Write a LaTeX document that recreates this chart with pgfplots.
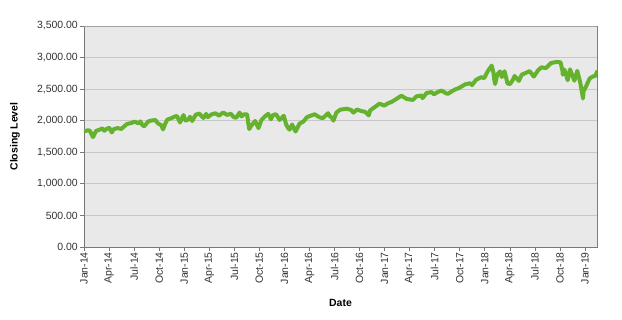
\documentclass[border=0pt]{standalone}
\usepackage{pgfplots}
\pgfplotsset{compat=1.18}
\usepackage{fontspec}
\setmainfont{Liberation Sans}
\definecolor{lineg}{RGB}{100,178,46}
\definecolor{bgg}{RGB}{233,233,233}
\definecolor{gridg}{RGB}{200,200,200}
\definecolor{axg}{RGB}{120,120,120}
\definecolor{txt}{RGB}{50,50,50}
\begin{document}
\begin{tikzpicture}
\useasboundingbox (-84bp,-73bp) rectangle (538bp,247bp);
\begin{axis}[
  scale only axis, width=513bp, height=221bp,
  at={(0,0)}, anchor=south west,
  xmin=0, xmax=61.43, ymin=0, ymax=3500,
  axis background/.style={fill=bgg},
  axis line style={draw=axg, line width=0.8bp},
  ytick={0,500,...,3500},
  yticklabel={\pgfmathprintnumber[fixed,fixed zerofill,precision=2,1000 sep={,}]{\tick}},
  /pgf/number format/assume math mode=true,
  xtick={0,3,...,60},
  xticklabels={Jan-14,Apr-14,Jul-14,Oct-14,Jan-15,Apr-15,Jul-15,Oct-15,Jan-16,Apr-16,Jul-16,Oct-16,Jan-17,Apr-17,Jul-17,Oct-17,Jan-18,Apr-18,Jul-18,Oct-18,Jan-19},
  x tick label style={rotate=90, anchor=east, font=\fontsize{10.5}{12}\selectfont, text=txt, inner sep=1bp},
  y tick label style={font=\fontsize{10.5}{12}\selectfont, text=txt, inner sep=2bp},
  tick align=outside, tick pos=left,
  major tick length=4bp,
  tick style={draw=axg, line width=0.8bp},
  ymajorgrids, grid style={draw=gridg, line width=0.8bp},
  xlabel={\textbf{Date}},
  ylabel={\textbf{Closing Level}},
  xlabel style={at={(axis description cs:0.5,-0.253)}, anchor=center, font=\fontsize{10.5}{12}\selectfont},
  ylabel style={at={(axis description cs:-0.1345,0.5)}, anchor=center, font=\fontsize{10.5}{12}\selectfont},
  clip=true,
]
\draw[draw=gridg!80!black, line width=0.6bp] (axis cs:0,3500) -- (axis cs:61.43,3500) -- (axis cs:61.43,0);
\addplot[color=lineg, line width=4bp, line join=round, line cap=round] coordinates {
(0.03,1832) (0.46,1848) (0.69,1844) (1.07,1741) (1.13,1751) (1.43,1838) (1.89,1859)
(2.20,1878) (2.43,1841) (2.66,1866) (3.03,1890) (3.33,1815) (3.53,1864) (4.0,1883)
(4.46,1870) (4.72,1900) (5.16,1949) (5.63,1962) (6.07,1985) (6.53,1958) (6.76,1988)
(6.99,1931) (7.20,1910) (7.69,1988) (8.03,2002) (8.56,2011) (8.79,1966) (9.0,1946)
(9.26,1928) (9.46,1862) (9.76,1964) (9.99,2018) (10.43,2039) (10.89,2067) (11.13,2075)
(11.49,1972) (11.92,2090) (11.99,2059)
(12.16,2002) (12.49,2019) (12.69,2063) (12.95,1995) (13.39,2096) (13.79,2113) (14.30,2044)
(14.63,2108) (14.82,2056) (15.30,2102) (15.76,2117) (16.16,2080) (16.66,2131) (17.13,2092)
(17.59,2110) (17.92,2058) (18.23,2046) (18.63,2129) (18.86,2068) (19.13,2100) (19.53,2102)
(19.66,1971) (19.79,1868) (20.0,1914) (20.49,1996) (20.89,1882) (21.26,2014) (21.72,2075)
(22.07,2109) (22.39,2023) (22.63,2089) (22.99,2103) (23.43,2012) (23.92,2078) (23.99,2044)
(24.2,1943) (24.46,1880) (24.62,1859) (24.92,1940) (25.33,1829) (25.79,1951) (26.3,1990)
(26.66,2051) (27.0,2073) (27.63,2102) (28.16,2057) (28.59,2040) (29.23,2119) (29.39,2079)
(29.76,2037) (29.86,2000) (30.23,2130) (30.69,2175) (31.46,2190) (31.99,2171) (32.26,2128)
(32.69,2177) (33.2,2153) (33.66,2141) (34.1,2085) (34.26,2163) (34.79,2213) (35.39,2271)
(35.95,2239)
(36.39,2275) (36.82,2297) (37.46,2349) (38.0,2396) (38.66,2344) (39.39,2329) (39.82,2387)
(40.46,2400) (40.53,2357) (41.03,2439) (41.59,2453) (41.92,2419) (42.43,2459) (42.82,2477)
(43.3,2438) (43.56,2425) (44.33,2488) (44.92,2519) (45.63,2575) (46.23,2594) (46.46,2564)
(46.95,2648) (47.56,2690) (47.92,2674)
(48.36,2786) (48.82,2873) (49.03,2762) (49.13,2649) (49.23,2581) (49.49,2732) (49.82,2780)
(50.03,2691) (50.36,2783) (50.72,2588) (51.03,2582) (51.39,2656) (51.56,2708) (52.07,2630)
(52.43,2730) (53.16,2772) (53.36,2787) (53.86,2699) (54.39,2801) (54.79,2846) (55.3,2833)
(55.92,2914) (56.63,2931) (57.07,2925) (57.3,2786) (57.33,2729) (57.53,2809) (57.92,2641)
(58.2,2814) (58.72,2633) (59.07,2790) (59.43,2600) (59.76,2351) (59.82,2467) (59.99,2507)
(60.3,2596) (60.56,2671) (60.99,2704) (61.23,2708) (61.43,2776)
};
\end{axis}
\end{tikzpicture}
\end{document}
